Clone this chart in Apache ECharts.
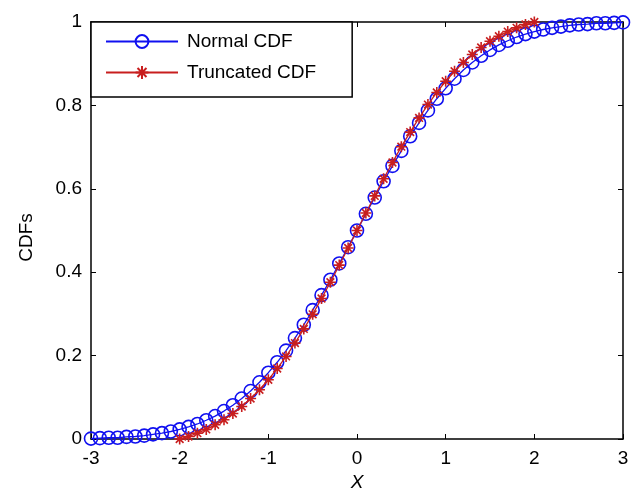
<!DOCTYPE html>
<html>
<head>
<meta charset="utf-8">
<script src="https://cdn.jsdelivr.net/npm/echarts@6/dist/echarts.min.js"></script>
<style>html,body{margin:0;padding:0;background:#fff;}#c{width:636px;height:494px;}</style>
</head>
<body>
<div id="c"></div>
<script>
var xNormal = [-3.0,-2.9,-2.8,-2.7,-2.6,-2.5,-2.4,-2.3,-2.2,-2.1,-2.0,-1.9,-1.8,-1.7,-1.6,-1.5,-1.4,-1.3,-1.2,-1.1,-1.0,-0.9,-0.8,-0.7,-0.6,-0.5,-0.4,-0.3,-0.2,-0.1,0.0,0.1,0.2,0.3,0.4,0.5,0.6,0.7,0.8,0.9,1.0,1.1,1.2,1.3,1.4,1.5,1.6,1.7,1.8,1.9,2.0,2.1,2.2,2.3,2.4,2.5,2.6,2.7,2.8,2.9,3.0];
var yNormal = [0.001,0.002,0.003,0.003,0.005,0.006,0.008,0.011,0.014,0.018,0.023,0.029,0.036,0.045,0.055,0.067,0.081,0.097,0.115,0.136,0.159,0.184,0.212,0.242,0.274,0.309,0.345,0.382,0.421,0.460,0.500,0.540,0.579,0.618,0.655,0.691,0.726,0.758,0.788,0.816,0.841,0.864,0.885,0.903,0.919,0.933,0.945,0.955,0.964,0.971,0.977,0.982,0.986,0.989,0.992,0.994,0.995,0.997,0.997,0.998,0.999];
var xTrunc = [-2.0,-1.9,-1.8,-1.7,-1.6,-1.5,-1.4,-1.3,-1.2,-1.1,-1.0,-0.9,-0.8,-0.7,-0.6,-0.5,-0.4,-0.3,-0.2,-0.1,0.0,0.1,0.2,0.3,0.4,0.5,0.6,0.7,0.8,0.9,1.0,1.1,1.2,1.3,1.4,1.5,1.6,1.7,1.8,1.9,2.0];
var yTrunc = [0.000,0.006,0.014,0.023,0.034,0.046,0.061,0.078,0.097,0.118,0.142,0.169,0.198,0.230,0.264,0.299,0.337,0.376,0.417,0.458,0.500,0.542,0.583,0.624,0.663,0.701,0.736,0.770,0.802,0.831,0.858,0.882,0.903,0.922,0.939,0.954,0.966,0.977,0.986,0.994,1.000];
var seriesNames = ['Normal CDF','Truncated CDF'];
var xLabelText = 'X';
var yLabelText = 'CDFs';

var FONT = 'Liberation Sans, Arial, Helvetica, sans-serif';
var BLUE = '#1010f0';
var RED = '#c81e1e';
function pairs(xs, ys){ return xs.map(function(x,i){ return [x, ys[i]]; }); }

var axisLineStyle = {show:true, onZero:false, lineStyle:{color:'#000', width:1.5}};
var tick = {show:true, inside:true, length:5, lineStyle:{color:'#000', width:1}};

var chart = echarts.init(document.getElementById('c'), null, {renderer:'canvas'});
chart.setOption({
  backgroundColor:'#fff',
  animation:false,
  grid:{left:91, right:13, top:22, bottom:55, containLabel:false, outerBoundsMode:'none'},
  legend:{
    left:91, top:22,
    orient:'vertical',
    data:seriesNames,
    itemWidth:72, itemHeight:16,
    itemGap:12,
    padding:[10,36,15,14],
    borderColor:'#000', borderWidth:1.5,
    backgroundColor:'#fff',
    z:10,
    textStyle:{fontFamily:FONT, fontSize:19, color:'#000', padding:[0,0,0,4]}
  },
  xAxis:[{
    type:'value', min:-3, max:3, interval:1,
    axisLine:axisLineStyle, axisTick:tick, splitLine:{show:false},
    axisLabel:{fontFamily:FONT, fontSize:19, color:'#000', margin:10},
    name:xLabelText, nameLocation:'middle', nameGap:34,
    nameTextStyle:{fontFamily:FONT, fontSize:19, fontStyle:'italic', color:'#000'}
  },{
    type:'value', min:-3, max:3, interval:1, position:'top',
    axisLine:axisLineStyle, axisTick:tick, splitLine:{show:false},
    axisLabel:{show:false}
  }],
  yAxis:[{
    type:'value', min:0, max:1, interval:0.2,
    axisLine:axisLineStyle, axisTick:tick, splitLine:{show:false},
    axisLabel:{fontFamily:FONT, fontSize:19, color:'#000', margin:9},
    name:yLabelText, nameLocation:'middle', nameGap:55,
    nameTextStyle:{fontFamily:FONT, fontSize:19, color:'#000', padding:[0,14,0,0]}
  },{
    type:'value', min:0, max:1, interval:0.2, position:'right',
    axisLine:axisLineStyle, axisTick:tick, splitLine:{show:false},
    axisLabel:{show:false}
  }],
  series:[{
    name:seriesNames[0], type:'line',
    data:pairs(xNormal, yNormal),
    symbol:'circle', symbolSize:13, showAllSymbol:true,
    lineStyle:{color:BLUE, width:1.3},
    itemStyle:{color:'rgba(0,0,0,0)', borderColor:BLUE, borderWidth:1.6},
    clip:false, z:2
  },{
    name:seriesNames[1], type:'line',
    data:pairs(xTrunc, yTrunc),
    symbol:'path://M5,0L5,10M0,5L10,5M1.5,1.5L8.5,8.5M1.5,8.5L8.5,1.5',
    symbolSize:11, showAllSymbol:true,
    lineStyle:{color:RED, width:1.3},
    itemStyle:{color:RED, borderColor:RED, borderWidth:1.6},
    clip:false, z:3
  }]
});
</script>
</body>
</html>
